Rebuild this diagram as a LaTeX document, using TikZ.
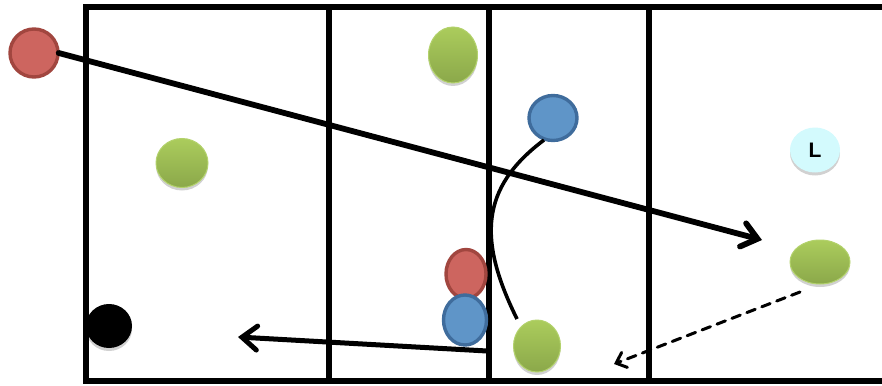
\documentclass[tikz,border=0pt]{standalone}
\usepackage{fontspec}
\setsansfont{Liberation Sans}
\usetikzlibrary{arrows.meta,shapes.geometric,shadows}
\definecolor{redfill}{HTML}{CD655F}
\definecolor{redline}{HTML}{A1463F}
\definecolor{bluefill}{HTML}{5F95C8}
\definecolor{blueline}{HTML}{3F6C9C}
\definecolor{greentop}{HTML}{ABCC5C}
\definecolor{greenbot}{HTML}{8BA84A}
\definecolor{greenline}{HTML}{B3D26C}
\definecolor{cyanfill}{HTML}{D3FAFD}
\tikzset{
  court/.style={line width=6pt, line cap=rect},
  ball/.style={ellipse, inner sep=0pt},
  redball/.style={ball, fill=redfill, draw=redline, line width=3.4pt},
  blueball/.style={ball, fill=bluefill, draw=blueline, line width=3.4pt},
  softshadow/.style={drop shadow={shadow xshift=0pt, shadow yshift=-3pt, opacity=0.18, fill=black}},
  greenball/.style={ball, top color=greentop, bottom color=greenbot, draw=greenline, line width=1pt, softshadow},
  lball/.style={ball, fill=cyanfill, font=\sffamily\bfseries\fontsize{21}{21}\selectfont, softshadow},
  blackball/.style={ball, fill=black, softshadow},
  barb/.style={-{Straight Barb[length=15pt, width=24pt, line cap=round]}, line cap=round},
  smallbarb/.style={-{Straight Barb[length=9pt, width=16pt, line cap=round]}, line cap=round},
}
\begin{document}
\begin{tikzpicture}[x=1pt,y=-1pt]
\useasboundingbox (0,0) rectangle (882,385);
% court
\draw[court] (900,7) -- (86,7) -- (86,381) -- (900,381);
\draw[court] (329,7) -- (329,381);
\draw[court] (489,7) -- (489,381);
\draw[court] (649,7) -- (649,381);
% players
\node[redball, minimum width=48pt, minimum height=48pt] (r1) at (34,53) {};
\node[greenball, minimum width=52pt, minimum height=49pt] (g1) at (182,163) {};
\node[greenball, minimum width=49pt, minimum height=56pt] (g2) at (453,55) {};
\node[blueball, minimum width=48pt, minimum height=45pt] (b1) at (553,118) {};
\node[lball, minimum width=50pt, minimum height=45pt] (l1) at (815,150) {L};
\node[greenball, minimum width=60pt, minimum height=44pt] (g4) at (820,262) {};
\node[redball, minimum width=40pt, minimum height=49pt] (r2) at (466,274) {};
\node[blueball, minimum width=43pt, minimum height=50pt] (b2) at (465,320) {};
\node[greenball, minimum width=47pt, minimum height=52pt] (g3) at (537,346) {};
\node[blackball, minimum width=46pt, minimum height=44pt] (k1) at (109,326) {};
% connectors
\coordinate (a1) at (762,240);
\coordinate (c1s) at (544,140);
\coordinate (c1e) at (517,319);
\coordinate (a3s) at (487,351);
\coordinate (a3e) at (238,337);
\coordinate (a4s) at (800,292);
\coordinate (a4e) at (614,364);
\draw[barb, line width=5.8pt] (r1.east) ++(-1,0) -- (a1);
\draw[line width=3.6pt] (c1s) .. controls (480,188) and (478,240) .. (c1e);
\draw[barb, line width=5pt] (a3s) -- (a3e);
\draw[smallbarb, line width=3pt, dash pattern=on 9pt off 7pt] (a4s) -- (a4e);
\end{tikzpicture}
\end{document}
